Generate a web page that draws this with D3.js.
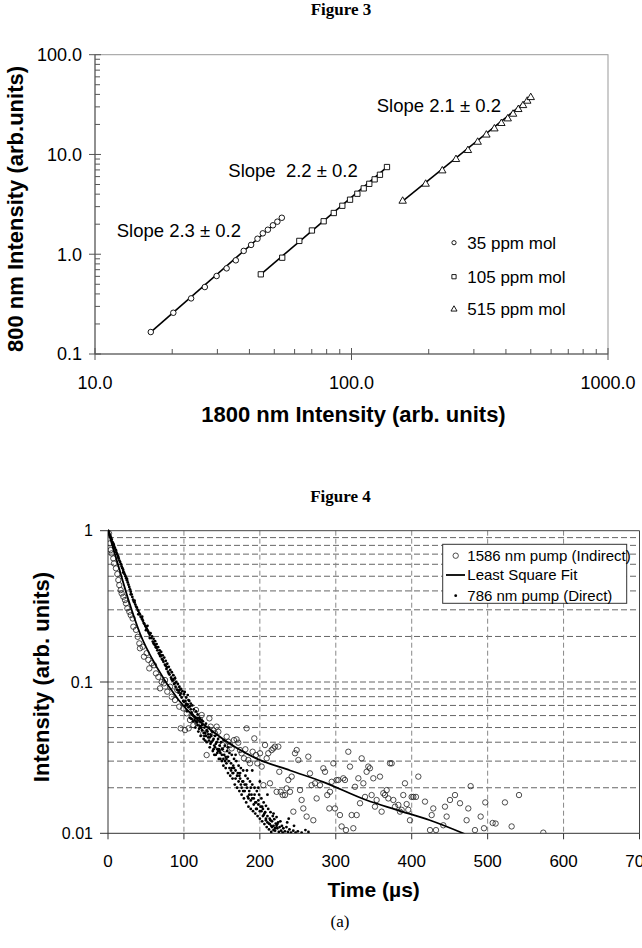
<!DOCTYPE html>
<html><head><meta charset="utf-8">
<script src="https://cdn.jsdelivr.net/npm/d3@7"></script>
<style>
body{margin:0;background:#fff}
svg{display:block}
text{font-family:"Liberation Sans",Arial,sans-serif;fill:#000}
.serif{font-family:"Liberation Serif","Times New Roman",serif}
</style>
</head><body>
<svg id="c" width="642" height="948"></svg>
<script>
// ---------------- Figure 3 data ----------------
const fig3Names = ["35 ppm mol", "105 ppm mol", "515 ppm mol"];
const x35 = [16.5,20.2,23.7,26.8,29.8,32.6,35.4,38.0,40.6,43.0,45.1,47.2,49.4,51.4,53.5];
const y35 = [0.166,0.259,0.361,0.469,0.605,0.722,0.869,1.08,1.24,1.43,1.62,1.76,1.95,2.12,2.32];
const x105 = [44.3,53.7,62.6,70.1,77.9,85.3,92.1,98.7,105.4,111.6,117.3,123.1,129.1,137.5];
const y105 = [0.629,0.923,1.36,1.73,2.14,2.59,3.06,3.52,4.04,4.57,5.08,5.63,6.26,7.48];
const x515 = [158.3,194.6,225.9,255.5,284.4,310.4,335.6,360.6,383.9,406.5,426.5,447,466.4,484.4,499.8];
const y515 = [3.41,5.05,6.87,8.93,10.99,13.3,15.7,18.1,20.5,22.8,25.4,28.3,31.0,34.3,37.3];
const fit35 = [[16.5,0.166],[53.5,2.32]];
const fit105 = [[44.3,0.629],[137.5,7.48]];
const fit515 = [[158.3,3.41],[499.8,37.3]];
const slopeLabels = ["Slope 2.3 \u00B1 0.2", "Slope  2.2 \u00B1 0.2", "Slope 2.1 \u00B1 0.2"];
const x3Ticks = [10, 100, 1000];
const x3TickLabels = ["10.0", "100.0", "1000.0"];
const y3Ticks = [0.1, 1, 10, 100];
const y3TickLabels = ["0.1", "1.0", "10.0", "100.0"];

// ---------------- Figure 4 data ----------------
const x4Ticks = [0,100,200,300,400,500,600,700];
const y4Ticks = [0.01, 0.1, 1];
const y4TickLabels = ["0.01", "0.1", "1"];
const legend4 = ["1586 nm pump (Indirect)", "Least Square Fit", "786 nm pump (Direct)"];
const fitT = [0,14,27,42,64,93,141,195,240,283,340,380,424,470];
const fitI = [1,0.578,0.348,0.21,0.126,0.076,0.0458,0.0313,0.026,0.0219,0.0166,0.0143,0.0122,0.0099];
const indirectPts = [
[1.3,0.96],[2.6,0.825],[3.5,0.745],[4.8,0.708],[7.0,0.656],[7.9,0.608],[10.5,0.564],[12.3,0.517],[13.6,0.472],[14.9,0.437],
[16.7,0.405],[18.0,0.385],[20.2,0.366],[22.4,0.348],[23.7,0.331],[25.5,0.307],[28.1,0.291],[29.9,0.277],[32.5,0.263],[33.4,0.232],
[36.9,0.221],[39.1,0.199],[41.3,0.18],[42.1,0.167],[45.7,0.171],[47.4,0.147],[50.9,0.155],[53.1,0.14],[54.4,0.123],[57.5,0.133],
[60.6,0.129],[63.2,0.114],[66.3,0.108],[68.5,0.0908],[70.7,0.1],[73.7,0.0979],[75.1,0.103],[78.1,0.0863],[81.7,0.0931],[83.8,0.0799],
[86.0,0.106],[88.2,0.076],[91.3,0.0885],[93.9,0.0687],[95.7,0.0494],[99.2,0.0669],[101.4,0.0481],[103.6,0.0621],[106.2,0.0494],[108.0,0.0561],
[110.2,0.059],[112.4,0.0519],[115.9,0.0653],[117.6,0.0533],[121.2,0.0561],[123.4,0.0605],[125.5,0.0458],[129.9,0.0329],[133.5,0.0575],[135.2,0.0507],
[138.7,0.0481],[140.9,0.0458],[143.1,0.0507],[145.3,0.0469],[147.5,0.0413],[151.0,0.0383],[154.1,0.0359],[156.3,0.0435],[158.5,0.0403],[160.7,0.0383],
[162.9,0.0364],[165.9,0.0413],[169.4,0.0418],[171.6,0.0397],[173.8,0.0355],[176.0,0.0338],[179.1,0.0313],[180.9,0.0359],[182.6,0.0494],[184.8,0.0305],
[187.0,0.029],[190.5,0.0346],[192.7,0.0424],[194.9,0.0329],[196.7,0.029],[200.2,0.0338],[202.4,0.0276],[204.6,0.0208],[206.8,0.0383],[209.0,0.0313],
[211.1,0.0338],[213.3,0.0214],[215.5,0.0355],[217.7,0.0364],[219.9,0.0374],[222.1,0.0188],[224.3,0.0374],[225.6,0.0255],[227.4,0.0188],[230.0,0.0179],
[233.1,0.0179],[235.3,0.0198],[237.5,0.0225],[239.7,0.0188],[241.9,0.0237],[244.1,0.0139],[246.3,0.0338],[248.5,0.0355],[250.7,0.0305],[252.9,0.0193],
[255.0,0.0166],[257.2,0.0146],[261.6,0.0129],[263.8,0.0321],[266.0,0.0249],[268.2,0.0208],[270.4,0.0122],[272.6,0.0214],[274.8,0.017],[279.2,0.0208],
[283.6,0.0269],[285.8,0.0255],[288.8,0.0179],[291.5,0.0146],
[292.4,0.0188],[294.6,0.0219],[296.8,0.029],[298.9,0.0146],[301.1,0.0225],[303.3,0.0225],[305.5,0.0132],[307.7,0.0111],[309.9,0.0231],[312.1,0.0225],
[313.4,0.0105],[316.5,0.0346],[318.7,0.0276],[320.9,0.0132],[323.1,0.0108],[325.3,0.0203],[327.5,0.0132],[329.7,0.0231],[331.9,0.0158],[334.1,0.0313],
[336.3,0.0214],[338.5,0.0174],[340.6,0.0255],[342.8,0.0276],[345.0,0.0269],[347.2,0.0179],[349.4,0.0231],[351.6,0.015],[353.8,0.0166],[358.2,0.0237],
[360.4,0.0139],[362.6,0.0184],[364.8,0.0179],[367.0,0.0193],[369.2,0.017],[371.4,0.029],[373.6,0.029],[375.8,0.0166],[378.0,0.015],[382.4,0.0154],
[384.5,0.0139],[386.7,0.0143],[388.9,0.0179],[391.1,0.0214],[393.3,0.0156],[395.5,0.0143],[397.7,0.0122],[399.9,0.0174],[402.1,0.0174],[405.6,0.0174],
[408.7,0.0237],[417.5,0.0162],[424.1,0.0105],[426.3,0.0132],[428.4,0.0146],[432.0,0.0105],[441.6,0.0113],[443.8,0.015],[446.0,0.0129],[450.4,0.0166],
[457.0,0.0179],[463.6,0.0158],[472.3,0.0122],[474.5,0.0146],[477.6,0.0205],[483.3,0.0105],[490.8,0.0129],[495.2,0.0108],[496.9,0.016],[506.6,0.0117],
[510.5,0.0116],[522.8,0.016],[531.6,0.0111],[541.3,0.0179],[573.3,0.0101]
];
const directPts = [
[0,1],[0.5,0.99],[1,0.97],[2,0.95],[2.5,0.93],[3,0.92],[4,0.9],[4.5,0.88],[5,0.87],[6,0.84],[7,0.82],[7.5,0.81],[8,0.79],[9,0.77],[10,0.75],
[10.5,0.74],[11,0.72],[12,0.7],[13,0.68],[13.5,0.67],[14,0.655],[15,0.635],[16,0.62],[17,0.6],[18,0.58],[19,0.565],[20,0.55],[20,0.53],[21,0.53],
[22,0.515],[23,0.5],[24,0.485],[25,0.47],[25,0.48],[26,0.455],[27,0.44],[28,0.425],[29,0.41],[30,0.395],[30,0.38],[31,0.38],[32,0.365],[33,0.35],
[34,0.34],[35,0.335],[35,0.345],[36,0.325],[37,0.315],[38,0.31],[39,0.3],[40,0.295],[40,0.28],[41,0.285],[42,0.28],[43,0.27],[44,0.267],[45,0.26],
[45,0.27],[46,0.254],[47,0.245],[48,0.242],[49,0.235],[50,0.231],[50,0.22],[51,0.225],[52,0.22],[52,0.235],[53,0.215],[54,0.21],[55,0.205],[55,0.195],
[56,0.21],[57,0.195],[58,0.2],[59,0.185],[60,0.193],[61,0.178],[62,0.186],[63,0.17],[64,0.178],[65,0.162],[66,0.17],[67,0.155],[68,0.162],[69,0.148],
[70,0.158],[71,0.142],[72,0.15],[73,0.136],[74,0.145],[75,0.13],[76,0.138],[77,0.122],[78,0.132],[79,0.117],[80,0.126],[81,0.112],[82,0.12],[83,0.107],
[84,0.116],[85,0.102],[86,0.111],[87,0.097],[88,0.106],[89,0.093],[90,0.1],[91,0.089],[92,0.097],[93,0.085],[94,0.093],[95,0.082],[96,0.09],[97,0.079],
[98,0.087],[99,0.075],[100,0.083],
[60,0.18],[64,0.168],[68,0.152],[72,0.14],[76,0.128],[80,0.114],[84,0.104],[88,0.098],[92,0.088],[96,0.084],[100,0.074],[62,0.175],[70,0.15],[78,0.125],
[86,0.104],[94,0.088],
[101,0.086],[102,0.07],[103,0.079],[104,0.064],[105,0.082],[106,0.068],[107,0.075],[108,0.058],[109,0.072],[110,0.063],[111,0.07],[112,0.055],[113,0.066],
[114,0.059],[115,0.05],[116,0.064],[117,0.054],[118,0.061],[119,0.047],[120,0.058],[121,0.051],[122,0.044],[123,0.056],[124,0.048],[125,0.055],[126,0.042],
[127,0.05],[128,0.046],[129,0.053],[130,0.04],[131,0.047],[132,0.043],[133,0.05],[134,0.037],[135,0.045],[136,0.04],[137,0.047],[138,0.035],[139,0.042],
[140,0.038],[141,0.044],[142,0.033],[143,0.04],[144,0.036],[145,0.042],[146,0.031],[147,0.038],[148,0.034],[149,0.04],[150,0.03],
[103,0.072],[106,0.076],[109,0.066],[112,0.06],[115,0.058],[118,0.052],[121,0.057],[124,0.052],[127,0.044],[130,0.048],[133,0.041],[136,0.044],[139,0.036],
[142,0.039],[145,0.035],[148,0.031],[104,0.07],[110,0.057],[116,0.055],[122,0.05],[128,0.041],[134,0.043],[140,0.033],[146,0.036],
[102,0.075],[105,0.071],[108,0.069],[111,0.061],[114,0.056],[117,0.058],[120,0.049],[123,0.05],[126,0.046],[129,0.044],[132,0.045],[135,0.039],[138,0.041],
[141,0.037],[144,0.034],[147,0.035],[150,0.033],
[151,0.036],[152,0.028],[153,0.033],[154,0.038],[155,0.027],[156,0.031],[157,0.035],[158,0.025],[159,0.03],[160,0.034],[161,0.024],[162,0.029],[163,0.033],
[164,0.023],[165,0.028],[166,0.031],[167,0.021],[168,0.026],[169,0.03],[170,0.02],[171,0.025],[172,0.028],[173,0.019],[174,0.023],[175,0.027],[176,0.018],
[177,0.022],[178,0.026],[179,0.017],[180,0.021],[181,0.024],[182,0.016],[183,0.02],[184,0.023],[185,0.015],[186,0.019],[187,0.022],[188,0.0145],[189,0.018],
[190,0.021],[191,0.014],[192,0.017],[193,0.02],[194,0.0135],[195,0.016],[196,0.019],[197,0.013],[198,0.0155],[199,0.018],[200,0.0125],[201,0.015],[202,0.017],
[203,0.012],[204,0.0145],[205,0.016],[206,0.0115],[207,0.0138],[208,0.0152],[209,0.011],[210,0.013],[211,0.0145],[212,0.0106],[213,0.0125],[214,0.0138],
[215,0.0102],[216,0.012],[217,0.013],[218,0.0112],[219,0.0124],[220,0.0104],[221,0.0116],[222,0.0128],[223,0.0108],[224,0.0118],[225,0.0102],[226,0.011],
[227,0.012],[228,0.0104],[229,0.0112],[230,0.0101],[231,0.0108],[233,0.0103],[235,0.011],[237,0.0102],[239,0.0106],[241,0.0101],[244,0.0104],[247,0.0101],
[250,0.0103],[255,0.0101],[264,0.0102],
[153,0.041],[158,0.037],[163,0.027],[168,0.033],[173,0.024],[178,0.022],[183,0.026],[188,0.02],[193,0.018],[198,0.02],[203,0.015],[208,0.0125],[213,0.0115],
[218,0.0135],[223,0.0115],[155,0.032],[165,0.025],[175,0.021],[185,0.017],[195,0.0145],[205,0.0132],[215,0.0112],[190,0.026],[200,0.022],[210,0.018],
[238,0.0125],[245,0.0112],[260,0.0105],[236,0.0118],
[152,0.031],[156,0.029],[160,0.027],[164,0.025],[168,0.023],[172,0.022],[176,0.02],[180,0.019],[184,0.0175],[188,0.0165],[192,0.0155],[196,0.0145],
[200,0.014],[204,0.013],[208,0.0122],[212,0.0116],[216,0.011],[220,0.0108],[150,0.036],[154,0.03],[158,0.032],[162,0.026],[166,0.027],[170,0.024],
[174,0.025],[178,0.019],[182,0.021],[186,0.018],[190,0.017],[194,0.016],[198,0.0165],[202,0.014],[206,0.0135],[210,0.0118],[214,0.0122],[218,0.0105],
[222,0.0112]
];

// ---------------- drawing ----------------
const svg = d3.select("#c");
const AX = "#555", BORDER = "#999";

// ===== Figure 3 =====
svg.append("text").attr("class","serif").attr("x",341).attr("y",15).attr("text-anchor","middle")
  .attr("font-size",17).attr("font-weight","bold").text("Figure 3");

const x3 = d3.scaleLog().domain([10,1000]).range([95,608]);
const y3 = d3.scaleLog().domain([0.1,100]).range([354,54.7]);
const g3 = svg.append("g");

g3.append("rect").attr("x",x3(10)).attr("y",y3(100)).attr("width",x3(1000)-x3(10)).attr("height",y3(0.1)-y3(100))
  .attr("fill","none").attr("stroke",BORDER).attr("stroke-width",1);
g3.append("line").attr("x1",x3(10)).attr("x2",x3(1000)).attr("y1",y3(0.1)).attr("y2",y3(0.1)).attr("stroke",AX);
g3.append("line").attr("x1",x3(10)).attr("x2",x3(10)).attr("y1",y3(0.1)).attr("y2",y3(100)).attr("stroke",AX);

const x3Minor = [];
[10,100].forEach(b => { for (let k=2;k<10;k++) x3Minor.push(b*k); });
g3.selectAll(".x3min").data(x3Minor).enter().append("line")
  .attr("x1",d=>x3(d)).attr("x2",d=>x3(d)).attr("y1",y3(0.1)).attr("y2",y3(0.1)-5).attr("stroke",AX);
g3.selectAll(".x3maj").data(x3Ticks).enter().append("line")
  .attr("x1",d=>x3(d)).attr("x2",d=>x3(d)).attr("y1",y3(0.1)-6).attr("y2",y3(0.1)+6).attr("stroke",AX);
g3.selectAll(".x3lab").data(x3Ticks).enter().append("text")
  .attr("x",d=>x3(d)).attr("y",388.5).attr("text-anchor","middle").attr("font-size",18)
  .text((d,i)=>x3TickLabels[i]);
const y3Minor = [];
[0.1,1,10].forEach(b => { for (let k=2;k<10;k++) y3Minor.push(b*k); });
g3.selectAll(".y3min").data(y3Minor).enter().append("line")
  .attr("x1",x3(10)).attr("x2",x3(10)+5).attr("y1",d=>y3(d)).attr("y2",d=>y3(d)).attr("stroke",AX);
g3.selectAll(".y3maj").data(y3Ticks).enter().append("line")
  .attr("x1",x3(10)-6).attr("x2",x3(10)+6).attr("y1",d=>y3(d)).attr("y2",d=>y3(d)).attr("stroke",AX);
g3.selectAll(".y3lab").data(y3Ticks).enter().append("text")
  .attr("x",82).attr("y",d=>y3(d)).attr("dy","0.36em").attr("text-anchor","end").attr("font-size",18)
  .text((d,i)=>y3TickLabels[i]);
g3.append("text").attr("x",353.5).attr("y",421.5).attr("text-anchor","middle").attr("font-size",22)
  .attr("font-weight","bold").text("1800 nm Intensity (arb. units)");
g3.append("text").attr("transform","translate(23,209) rotate(-90)").attr("text-anchor","middle").attr("font-size",22)
  .attr("font-weight","bold").text("800 nm Intensity (arb.units)");

const line3 = d3.line().x(d=>x3(d[0])).y(d=>y3(d[1]));
[fit35, fit105, fit515].forEach(f => {
  g3.append("path").attr("d",line3(f)).attr("fill","none").attr("stroke","#000").attr("stroke-width",1.6);
});
const sym = [d3.symbolCircle, d3.symbolSquare, d3.symbolTriangle];
const symSize = [24, 28, 24];
const series3 = [[x35,y35],[x105,y105],[x515,y515]];
series3.forEach((s,si) => {
  const pts = s[0].map((x,i)=>[x, s[1][i]]);
  g3.selectAll(".m"+si).data(pts).enter().append("path")
    .attr("transform",d=>`translate(${x3(d[0])},${y3(d[1])})`)
    .attr("d",d3.symbol().type(sym[si]).size(symSize[si]))
    .attr("fill","#fff").attr("stroke","#000").attr("stroke-width",0.9);
});
const slopePos = [[116.7,236.5],[228.3,176.5],[376.7,111.5]];
slopeLabels.forEach((t,i)=>{
  g3.append("text").attr("x",slopePos[i][0]).attr("y",slopePos[i][1]).attr("font-size",18.5)
    .style("white-space","pre").attr("xml:space","preserve").text(t);
});
const leg3Y = [242.7, 276.7, 309.3];
const legSize = [14, 18, 16];
fig3Names.forEach((n,i)=>{
  g3.append("path").attr("transform",`translate(454,${leg3Y[i]})`)
    .attr("d",d3.symbol().type(sym[i]).size(legSize[i]))
    .attr("fill","#fff").attr("stroke","#000").attr("stroke-width",0.9);
  g3.append("text").attr("x",467.3).attr("y",leg3Y[i]).attr("dy","0.36em").attr("font-size",17).text(n);
});

// ===== Figure 4 =====
svg.append("text").attr("class","serif").attr("x",340.5).attr("y",501.5).attr("text-anchor","middle")
  .attr("font-size",17).attr("font-weight","bold").text("Figure 4");

const x4 = d3.scaleLinear().domain([0,700]).range([108,639.5]);
const y4 = d3.scaleLog().domain([0.01,1]).range([833.3,530.7]);
const g4 = svg.append("g");

const y4Grid = [];
[0.01,0.1].forEach(b => { for (let k=2;k<10;k++) y4Grid.push(b*k); });
y4Grid.push(0.1);
g4.selectAll(".hg").data(y4Grid).enter().append("line")
  .attr("x1",x4(0)).attr("x2",x4(700)).attr("y1",d=>y4(d)).attr("y2",d=>y4(d))
  .attr("stroke","#666").attr("stroke-width",1).attr("stroke-dasharray","6,3");
g4.selectAll(".vg").data(x4Ticks.slice(1,7)).enter().append("line")
  .attr("x1",d=>x4(d)).attr("x2",d=>x4(d)).attr("y1",y4(1)).attr("y2",y4(0.01))
  .attr("stroke","#888").attr("stroke-width",1).attr("stroke-dasharray","5,3");
g4.append("line").attr("x1",x4(0)).attr("x2",x4(700)).attr("y1",y4(1)).attr("y2",y4(1)).attr("stroke","#444");
g4.append("line").attr("x1",x4(700)).attr("x2",x4(700)).attr("y1",y4(1)).attr("y2",y4(0.01)).attr("stroke","#444");
g4.append("line").attr("x1",x4(0)).attr("x2",x4(700)).attr("y1",y4(0.01)).attr("y2",y4(0.01)).attr("stroke","#333");
g4.append("line").attr("x1",x4(0)).attr("x2",x4(0)).attr("y1",y4(1)).attr("y2",y4(0.01)).attr("stroke","#333");
g4.selectAll(".xt").data(x4Ticks).enter().append("line")
  .attr("x1",d=>x4(d)).attr("x2",d=>x4(d)).attr("y1",y4(0.01)).attr("y2",y4(0.01)+6).attr("stroke","#333");
g4.selectAll(".xl").data(x4Ticks).enter().append("text")
  .attr("x",d=>x4(d)).attr("y",867).attr("text-anchor","middle").attr("font-size",17).text(d=>d);
g4.selectAll(".yt").data(y4Ticks).enter().append("line")
  .attr("x1",x4(0)-8).attr("x2",x4(0)).attr("y1",d=>y4(d)).attr("y2",d=>y4(d)).attr("stroke","#333");
g4.selectAll(".yl").data(y4Ticks).enter().append("text")
  .attr("x",93).attr("y",d=>y4(d)).attr("dy","0.36em").attr("text-anchor","end").attr("font-size",16)
  .text((d,i)=>y4TickLabels[i]);
g4.append("text").attr("x",373.7).attr("y",896.5).attr("text-anchor","middle").attr("font-size",21)
  .attr("font-weight","bold").text("Time (\u00B5s)");
g4.append("text").attr("transform","translate(48.5,677) rotate(-90)").attr("text-anchor","middle").attr("font-size",22)
  .attr("font-weight","bold").text("Intensity (arb. units)");
svg.append("text").attr("class","serif").attr("x",340).attr("y",926.5).attr("text-anchor","middle")
  .attr("font-size",17).text("(a)");

svg.append("defs").append("clipPath").attr("id","clip4").append("rect")
  .attr("x",x4(0)).attr("y",y4(1)-3).attr("width",x4(700)-x4(0)).attr("height",y4(0.01)-y4(1)+3);
const pl = g4.append("g").attr("clip-path","url(#clip4)");
pl.selectAll(".ic").data(indirectPts).enter().append("circle")
  .attr("cx",d=>x4(d[0])).attr("cy",d=>y4(d[1])).attr("r",2.7)
  .attr("fill","none").attr("stroke","#222").attr("stroke-width",0.8);
pl.selectAll(".dd").data(directPts).enter().append("circle")
  .attr("cx",d=>x4(d[0])).attr("cy",d=>y4(d[1])).attr("r",1.4).attr("fill","#000");
const fitPts = fitT.map((t,i)=>[t, fitI[i]]);
pl.append("path").attr("d", d3.line().x(d=>x4(d[0])).y(d=>y4(d[1])).curve(d3.curveMonotoneX)(fitPts))
  .attr("fill","none").attr("stroke","#000").attr("stroke-width",1.8);

const lg = g4.append("g");
lg.append("rect").attr("x",442.7).attr("y",544.3).attr("width",184).attr("height",59)
  .attr("fill","#fff").attr("stroke","#333").attr("stroke-width",1);
const legY4 = [555.7, 575, 595.7];
lg.append("circle").attr("cx",455.7).attr("cy",legY4[0]).attr("r",2.7).attr("fill","none").attr("stroke","#222").attr("stroke-width",0.8);
lg.append("line").attr("x1",446).attr("x2",465).attr("y1",legY4[1]).attr("y2",legY4[1]).attr("stroke","#000").attr("stroke-width",1.8);
lg.append("circle").attr("cx",455.7).attr("cy",legY4[2]).attr("r",1.4).attr("fill","#000");
legend4.forEach((t,i)=>{
  lg.append("text").attr("x",467.3).attr("y",legY4[i]).attr("dy","0.36em").attr("font-size",15).text(t);
});
</script>
</body></html>
